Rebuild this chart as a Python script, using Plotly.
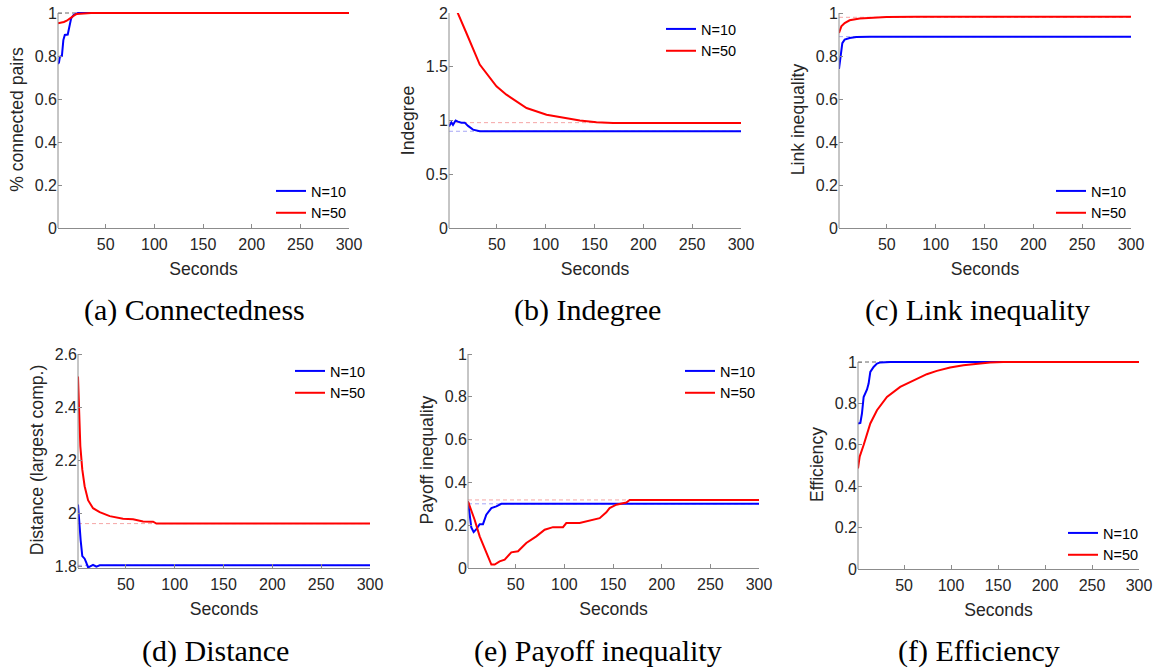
import plotly.graph_objects as go

# ---------------- data ----------------
T_START, T_END = 1, 300
x_ticks = [50, 100, 150, 200, 250, 300]
series_names = ["N=10", "N=50"]

# (a) Connectedness
a_n10_t = [1, 2, 3, 5, 6.5, 8, 11, 12.8, 14.5, 17, 21.5, 300]
a_n10_v = [0.763, 0.77, 0.797, 0.80, 0.874, 0.898, 0.90, 0.944, 0.975, 0.991, 1.0, 1.0]
a_n50_t = [1, 4, 7, 10, 13, 15, 18, 20, 25, 30, 35, 300]
a_n50_v = [0.952, 0.954, 0.958, 0.964, 0.975, 0.983, 0.99, 0.995, 0.997, 0.999, 1.0, 1.0]
a_limits = [1.0, 1.0]

# (b) Indegree
b_n10_t = [1, 3.4, 5.1, 7.8, 10.2, 13.7, 17.1, 20.5, 25.6, 32.5, 300]
b_n10_v = [0.945, 0.983, 0.96, 1.0, 0.99, 0.98, 0.98, 0.95, 0.915, 0.90, 0.90]
b_n50_t = [1, 10.2, 18.8, 32.5, 49.6, 59.8, 80.4, 100.9, 114.6, 135, 152, 169, 300]
b_n50_v = [2.19, 2.0, 1.814, 1.52, 1.318, 1.24, 1.116, 1.054, 1.03, 1.0, 0.983, 0.977, 0.977]
b_limits = [0.90, 0.98]

# (c) Link inequality
c_n10_t = [1, 2.4, 4.4, 6.8, 11.9, 18.8, 32.5, 300]
c_n10_v = [0.74, 0.798, 0.86, 0.876, 0.884, 0.888, 0.89, 0.89]
c_n50_t = [1, 3.4, 6.8, 11.9, 22.2, 32.5, 49.6, 80, 300]
c_n50_v = [0.907, 0.938, 0.953, 0.966, 0.974, 0.977, 0.981, 0.982, 0.982]
c_limits = [0.89, 0.98]

# (d) Distance (largest comp.)
d_n10_t = [1, 2.7, 3.7, 5.4, 7.8, 9.5, 11.3, 13, 16.4, 19.8, 23.2, 300]
d_n10_v = [2.034, 1.94, 1.90, 1.84, 1.83, 1.815, 1.797, 1.80, 1.807, 1.80, 1.805, 1.805]
d_n50_t = [1, 2, 3.4, 5.4, 7.8, 11.3, 16.4, 23.2, 33.5, 47.1, 57.4, 67.6, 77.9, 81.3, 300]
d_n50_v = [2.515, 2.365, 2.2525, 2.165, 2.1025, 2.05, 2.02, 2.005, 1.99, 1.98, 1.978, 1.97, 1.969, 1.962, 1.962]
d_limits = [1.805, 1.962]

# (e) Payoff inequality
e_n10_t = [1, 2.7, 4.4, 6.8, 9.6, 13, 16.4, 19.8, 25, 30.1, 35.2, 300]
e_n10_v = [0.311, 0.241, 0.19, 0.168, 0.182, 0.205, 0.205, 0.249, 0.28, 0.288, 0.30, 0.30]
e_n50_t = [1, 4.4, 7.8, 13, 18.1, 21.5, 25, 28.4, 33.5, 38.7, 45.5, 52.4, 60.9, 71.2, 79.8,
           88.3, 98.6, 102, 115.7, 122.6, 129.4, 136.3, 143.1, 146.5, 153.4, 163.7, 167.1, 300]
e_n50_v = [0.311, 0.272, 0.2255, 0.148, 0.086, 0.054, 0.016, 0.016, 0.031, 0.039, 0.073, 0.078,
           0.117, 0.148, 0.179, 0.191, 0.191, 0.21, 0.21, 0.218, 0.226, 0.233, 0.26, 0.28, 0.296,
           0.306, 0.318, 0.318]
e_limits = [0.30, 0.318]

# (f) Efficiency
f_n10_t = [1, 3.5, 5.2, 7, 10.6, 12.3, 14.1, 17.6, 21.2, 24.7, 35.3, 300]
f_n10_v = [0.703, 0.706, 0.751, 0.831, 0.867, 0.896, 0.952, 0.976, 0.992, 0.998, 1.0, 1.0]
f_n50_t = [1, 2.8, 7, 14.1, 21.2, 31.8, 45.9, 60.1, 74.2, 84.9, 99, 113.2, 127.3, 141.5, 155.6, 300]
f_n50_v = [0.486, 0.543, 0.599, 0.703, 0.767, 0.831, 0.88, 0.912, 0.941, 0.957, 0.973, 0.984,
           0.992, 0.997, 1.0, 1.0]
f_limits = [1.0, 1.0]

y_labels = ["% connected pairs", "Indegree", "Link inequality",
            "Distance (largest comp.)", "Payoff inequality", "Efficiency"]
captions = ["(a) Connectedness", "(b) Indegree", "(c) Link inequality",
            "(d) Distance", "(e) Payoff inequality", "(f) Efficiency"]
y_ranges = [[0, 1], [0, 2], [0, 1], [1.795, 2.6], [0, 1], [0, 1]]
y_tickvals = [[0, 0.2, 0.4, 0.6, 0.8, 1], [0, 0.5, 1, 1.5, 2], [0, 0.2, 0.4, 0.6, 0.8, 1],
              [1.8, 2, 2.2, 2.4, 2.6], [0, 0.2, 0.4, 0.6, 0.8, 1], [0, 0.2, 0.4, 0.6, 0.8, 1]]
y_ticktext = [["0", "0.2", "0.4", "0.6", "0.8", "1"], ["0", "0.5", "1", "1.5", "2"],
              ["0", "0.2", "0.4", "0.6", "0.8", "1"], ["1.8", "2", "2.2", "2.4", "2.6"],
              ["0", "0.2", "0.4", "0.6", "0.8", "1"], ["0", "0.2", "0.4", "0.6", "0.8", "1"]]

panels = [
    (a_n10_t, a_n10_v, a_n50_t, a_n50_v, a_limits),
    (b_n10_t, b_n10_v, b_n50_t, b_n50_v, b_limits),
    (c_n10_t, c_n10_v, c_n50_t, c_n50_v, c_limits),
    (d_n10_t, d_n10_v, d_n50_t, d_n50_v, d_limits),
    (e_n10_t, e_n10_v, e_n50_t, e_n50_v, e_limits),
    (f_n10_t, f_n10_v, f_n50_t, f_n50_v, f_limits),
]

# ---------------- layout geometry (pixels) ----------------
W, H = 1158, 671
# left, right, top, bottom of each plot area
boxes = [(58, 349, 13, 228), (449, 741, 13, 228), (839, 1131, 13, 228),
         (78, 370, 354, 568), (468, 759, 354, 568), (858, 1139, 362, 569)]
TOP_PAD = 2  # px of headroom so lines at the top limit are not clipped
legend_pos = [(271, 175), (661, 13), (1051, 175), (290, 355), (680, 355), (1063, 517)]
caption_pos = [(195, 310), (587, 310), (977, 310), (215, 651), (598, 651), (979, 651)]

BLUE = "#0000ff"
RED = "#ff0000"
AXIS = "#8c8c8c"
TXT = "#262626"
FONT = "Liberation Sans, Arial, sans-serif"

fig = go.Figure()
layout = dict(width=W, height=H, margin=dict(l=0, r=0, t=0, b=0),
              paper_bgcolor="white", plot_bgcolor="white", showlegend=True,
              font=dict(family=FONT, color=TXT))

annotations = []
shapes = []
for i, (t10, v10, t50, v50, lim) in enumerate(panels):
    k = "" if i == 0 else str(i + 1)
    xa, ya = "x" + k, "y" + k
    leg = "legend" + k
    if lim[0] == lim[1]:
        lim_colors = ["#9a9a9a", "#9a9a9a"]
    else:
        lim_colors = ["#a6a6f5", "#f5a6a6"]
    for lv, lc in zip(lim, lim_colors):
        fig.add_trace(go.Scatter(x=[T_START, T_END], y=[lv, lv], mode="lines",
                                 line=dict(color=lc, width=1, dash="4px,3px"),
                                 showlegend=False, hoverinfo="skip", xaxis=xa, yaxis=ya))
    fig.add_trace(go.Scatter(x=t10, y=v10, mode="lines", name=series_names[0],
                             line=dict(color=BLUE, width=2), xaxis=xa, yaxis=ya, legend=leg))
    fig.add_trace(go.Scatter(x=t50, y=v50, mode="lines", name=series_names[1],
                             line=dict(color=RED, width=2), xaxis=xa, yaxis=ya, legend=leg))

    l, r, t, b = boxes[i]
    y0, y1 = y_ranges[i]
    per_px = (y1 - y0) / (b - t)
    pad = 0 if i == 1 else TOP_PAD  # panel (b) keeps its hard clip at 2
    layout["xaxis" + k] = dict(
        domain=[l / W, r / W], anchor=ya, range=[T_START, T_END],
        tickvals=x_ticks, ticks="inside", ticklen=4, tickcolor=AXIS,
        showline=True, linecolor=AXIS, linewidth=1, showgrid=False, zeroline=False,
        tickfont=dict(size=16, color=TXT, family=FONT), ticklabelstandoff=2,
        title=dict(text="Seconds", font=dict(size=17.6, color=TXT, family=FONT), standoff=10),
        automargin=False, fixedrange=True)
    layout["yaxis" + k] = dict(
        domain=[1 - b / H, 1 - (t - pad) / H], anchor=xa, range=[y0, y1 + pad * per_px],
        tickvals=y_tickvals[i], ticktext=y_ticktext[i], ticks="inside", ticklen=4,
        tickcolor=AXIS, showline=False, showgrid=False,
        zeroline=False, tickfont=dict(size=16, color=TXT, family=FONT),
        title=dict(text=y_labels[i], font=dict(size=17.6, color=TXT, family=FONT), standoff=6),
        automargin=False, fixedrange=True)
    # left axis line spanning exactly the tick range
    shapes.append(dict(type="line", xref="x" + k + " domain", yref=ya,
                       x0=0, x1=0, y0=y0, y1=y1, line=dict(color=AXIS, width=1), layer="above"))
    lx, ly = legend_pos[i]
    layout[leg] = dict(x=lx / W, y=1 - ly / H, xanchor="left", yanchor="top",
                       bgcolor="rgba(0,0,0,0)", borderwidth=0, itemwidth=30,
                       tracegroupgap=0, font=dict(size=14.5, color="#000000", family=FONT))
    cx, cy = caption_pos[i]
    annotations.append(dict(text=captions[i], x=cx / W, y=1 - cy / H, xref="paper",
                            yref="paper", xanchor="center", yanchor="middle", showarrow=False,
                            font=dict(size=30, color="#000000",
                                      family="Liberation Serif, Times New Roman, serif")))

layout["annotations"] = annotations
layout["shapes"] = shapes
fig.update_layout(**layout)
fig.write_html("out.html", config={"displayModeBar": False},
               post_script="document.body.style.margin='0';document.body.style.overflow='hidden';")
